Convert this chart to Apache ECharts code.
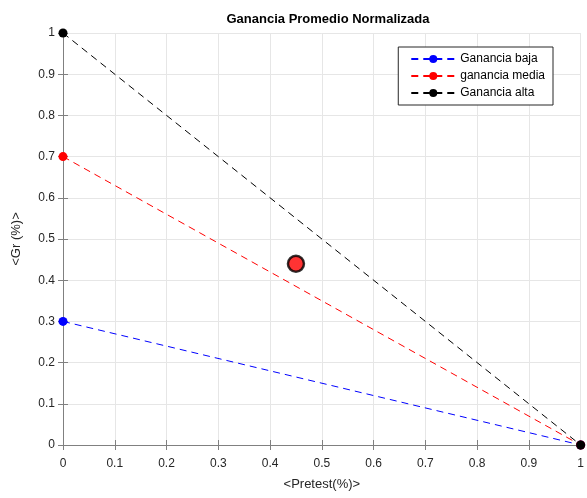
<!DOCTYPE html>
<html>
<head>
<meta charset="utf-8">
<script src="https://cdn.jsdelivr.net/npm/echarts@6/dist/echarts.min.js"></script>
<style>html,body{margin:0;padding:0;background:#fff}#c{width:587px;height:498px}</style>
</head>
<body>
<div id="c"></div>
<script>
const xData = [0, 1];
const bajaY = [0.3, 0];
const mediaY = [0.7, 0];
const altaY = [1, 0];
const promedio = [[0.45, 0.44]];

const FONT = 'Liberation Sans';
const chart = echarts.init(document.getElementById('c'));
const pairs = ys => xData.map((x, i) => [x, ys[i]]);
const fmt = v => String(Math.round(v * 10) / 10);

function lineSeries(name, ys, color) {
  return {
    name, type: 'line', data: pairs(ys), clip: false,
    symbol: 'circle', symbolSize: 9,
    itemStyle: { color },
    lineStyle: { color, width: 1, type: [7, 5] },
    emphasis: { disabled: true }
  };
}

const axisCommon = {
  type: 'value', min: 0, max: 1, interval: 0.1,
  axisLine: { show: true, lineStyle: { color: '#808080', width: 1 } },
  axisTick: { show: true, inside: true, length: 5, lineStyle: { color: '#808080' } },
  splitLine: { show: true, lineStyle: { color: '#e6e6e6', width: 1 } },
  axisLabel: { color: '#262626', fontFamily: FONT, fontSize: 12, formatter: fmt }
};

chart.setOption({
  animation: false,
  title: {
    text: 'Ganancia Promedio Normalizada', left: 323, top: 8, textAlign: 'center',
    textStyle: { fontFamily: FONT, fontSize: 13, fontWeight: 'bold', color: '#000' }
  },
  grid: { left: 63, right: 4, top: 33, bottom: 53, containLabel: false },
  legend: {
    data: ['Ganancia baja', 'ganancia media', 'Ganancia alta'],
    orient: 'vertical', right: 34, top: 47,
    backgroundColor: '#fff', borderColor: '#262626', borderWidth: 1,
    padding: [6, 8, 6, 12], itemGap: 5, itemWidth: 44, itemHeight: 10,
    textStyle: { fontFamily: FONT, fontSize: 12, color: '#000' }
  },
  xAxis: [
    Object.assign({}, axisCommon, {
      position: 'bottom',
      name: '<Pretest(%)>', nameLocation: 'middle', nameGap: 33,
      nameTextStyle: { fontFamily: FONT, fontSize: 13, color: '#262626' },
      axisLabel: Object.assign({}, axisCommon.axisLabel, { margin: 13 })
    }),
    Object.assign({}, axisCommon, {
      position: 'top', axisLabel: { show: false }, splitLine: { show: false }
    })
  ],
  yAxis: [
    Object.assign({}, axisCommon, {
      position: 'left',
      name: '<Gr (%)>', nameLocation: 'middle', nameGap: 40,
      nameTextStyle: { fontFamily: FONT, fontSize: 13, color: '#262626' },
      axisLabel: Object.assign({}, axisCommon.axisLabel, { margin: 8 })
    }),
    Object.assign({}, axisCommon, {
      position: 'right', axisLabel: { show: false }, splitLine: { show: false }
    })
  ],
  series: [
    lineSeries('Ganancia baja', bajaY, '#0000ff'),
    lineSeries('ganancia media', mediaY, '#ff0000'),
    lineSeries('Ganancia alta', altaY, '#000000'),
    {
      name: 'Promedio', type: 'scatter', data: promedio, symbol: 'circle', symbolSize: 16,
      itemStyle: { color: '#ff0000', borderColor: '#000', borderWidth: 2.5 },
      emphasis: { disabled: true }
    }
  ]
});
</script>
</body>
</html>
